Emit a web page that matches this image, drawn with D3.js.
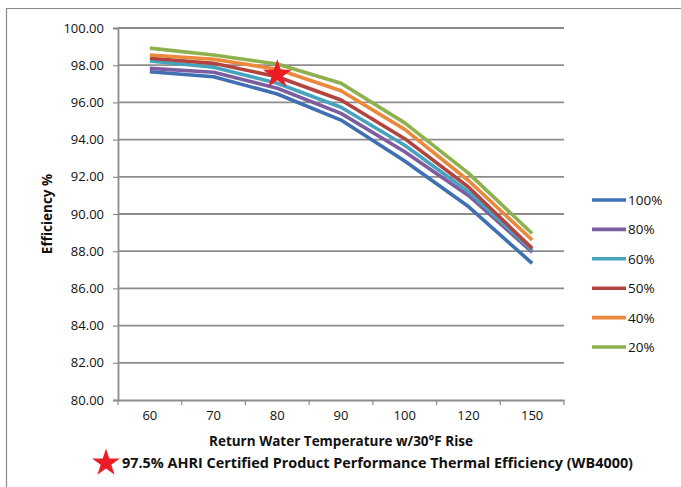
<!DOCTYPE html>
<html><head><meta charset="utf-8">
<script src="https://cdn.jsdelivr.net/npm/d3@7"></script>
<style>body{margin:0;background:#fff}svg{display:block}text{font-family:"Open Sans",sans-serif;fill:#111}</style>
</head><body><svg id="c" width="681" height="487"></svg>
<script>
const categories = ["60","70","80","90","100","120","150"];
const seriesNames = ["100%","80%","60%","50%","40%","20%"];
const s100 = [97.65, 97.38, 96.45, 95.05, 92.85, 90.40, 87.35];
const s80  = [97.83, 97.62, 96.76, 95.41, 93.35, 91.00, 87.95];
const s60  = [98.23, 97.89, 97.03, 95.74, 93.70, 91.20, 88.05];
const s50  = [98.37, 98.10, 97.38, 96.13, 94.05, 91.45, 88.15];
const s40  = [98.55, 98.32, 97.78, 96.63, 94.55, 91.80, 88.60];
const s20  = [98.92, 98.55, 98.06, 97.03, 94.90, 92.20, 88.95];
const yTicks = [80,82,84,86,88,90,92,94,96,98,100];
const starCategory = "80";
const starValue = 97.5;
const starLabel = "97.5% AHRI Certified Product Performance Thermal Efficiency (WB4000)";
const colors = ["#3E70B2","#7B5DA0","#45A3BE","#B3433F","#EB8839","#8DB24D"];
const seriesValues = [s100, s80, s60, s50, s40, s20];

const svg = d3.select("#c");
const L = 118, R = 564, T = 28, B = 400;
const x = d3.scaleBand().domain(categories).range([L, R]);
const y = d3.scaleLinear().domain([80, 100]).range([B, T]);

// outer frame (left & top)
svg.append("path").attr("d", "M6.5,487 L6.5,8.5 L681,8.5").attr("fill","none").attr("stroke","#8a8a8a").attr("stroke-width",1.2);

// gridlines
svg.append("g").selectAll("line").data(yTicks.filter(d => d > 80)).join("line")
  .attr("x1", L).attr("x2", R).attr("y1", d => y(d)).attr("y2", d => y(d))
  .attr("stroke", "#8c8c8c").attr("stroke-width", 1.8);

// y axis
const yAxis = svg.append("g").attr("transform", `translate(${L},0)`)
  .call(d3.axisLeft(y).tickValues(yTicks).tickFormat(d3.format(".2f")).tickSize(5).tickPadding(9));
yAxis.select(".domain").attr("stroke", "#8c8c8c").attr("stroke-width", 1.8);
yAxis.selectAll(".tick line").attr("stroke", "#8c8c8c").attr("stroke-width", 1.2);
yAxis.selectAll("text").attr("font-size", 13).attr("font-family", "'Open Sans',sans-serif").attr("fill", "#111");

// x axis
const xAxis = svg.append("g").attr("transform", `translate(0,${B})`)
  .call(d3.axisBottom(x).tickSize(0).tickPadding(11));
xAxis.select(".domain").attr("stroke", "#8c8c8c").attr("stroke-width", 1.8);
xAxis.selectAll("text").attr("font-size", 13).attr("font-family", "'Open Sans',sans-serif").attr("fill", "#111");
svg.append("g").selectAll("line").data(d3.range(categories.length + 1)).join("line")
  .attr("x1", i => L + i * x.step()).attr("x2", i => L + i * x.step())
  .attr("y1", B).attr("y2", B + 5).attr("stroke", "#8c8c8c").attr("stroke-width", 1.2);

// lines
const line = d3.line().x((d, i) => x(categories[i]) + x.bandwidth() / 2).y(d => y(d));
svg.append("g").selectAll("path").data(seriesValues).join("path")
  .attr("d", d => line(d)).attr("fill", "none")
  .attr("stroke", (d, i) => colors[i]).attr("stroke-width", 3.6).attr("stroke-linejoin", "round");

// star
const star = d3.symbol().type(d3.symbolStar);
svg.append("path").attr("d", star.size(260)())
  .attr("transform", `translate(${x(starCategory) + x.bandwidth() / 2},${y(starValue)})`)
  .attr("fill", "#EC1C24");

// axis titles
svg.append("text").attr("transform", "translate(52,214) rotate(-90)").attr("text-anchor", "middle")
  .attr("font-size", 13.5).attr("font-weight", "bold").text("Efficiency %");
svg.append("text").attr("x", 341).attr("y", 446).attr("text-anchor", "middle")
  .attr("font-size", 13.5).attr("font-weight", "bold").text("Return Water Temperature w/30°F Rise");

// star note
svg.append("path").attr("d", star.size(240)()).attr("transform", "translate(106,463)").attr("fill", "#EC1C24");
svg.append("text").attr("x", 122).attr("y", 468).attr("font-size", 13.5).attr("font-weight", "bold")
  .attr("textLength", 511).attr("lengthAdjust", "spacingAndGlyphs").text(starLabel);

// legend
const lg = svg.append("g").selectAll("g").data(seriesNames).join("g")
  .attr("transform", (d, i) => `translate(592,${200 + i * 29.4})`);
lg.append("line").attr("x1", 0).attr("x2", 34).attr("stroke", (d, i) => colors[i]).attr("stroke-width", 3.6);
lg.append("text").attr("x", 36).attr("y", 5).attr("font-size", 13.5).text(d => d);
</script></body></html>
